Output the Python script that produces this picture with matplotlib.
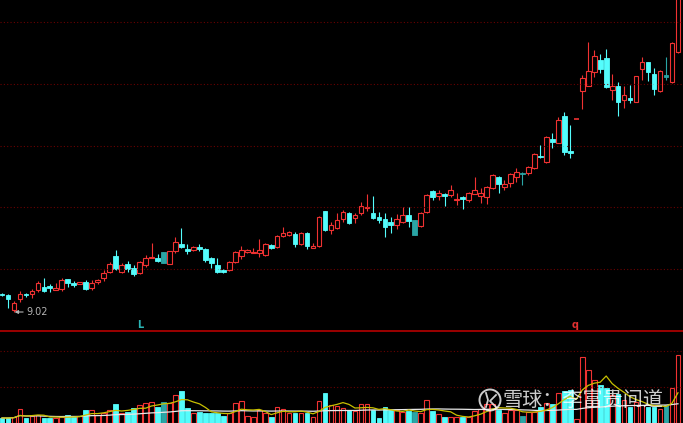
import numpy as np
import pandas as pd
import matplotlib
matplotlib.use("Agg")
import matplotlib.pyplot as plt
from matplotlib.patches import Rectangle, Circle
from matplotlib.lines import Line2D

plt.rcParams['font.family'] = ['Noto Sans CJK SC', 'DejaVu Sans']

# 日K线（开、高、低、收）
opens = [9.92, 9.87, 9.12, 9.67, 9.92, 9.92, 10.12, 10.27, 10.32, 10.12,
         10.17, 10.67, 10.47, 10.42, 10.52, 10.22, 10.52, 10.72, 11.02, 11.82,
         11.02, 11.42, 11.22, 10.97, 11.37, 11.72, 11.72, 12.02, 11.42, 12.07,
         12.42, 12.17, 12.12, 12.27, 12.17, 11.72, 11.37, 11.12, 11.12, 11.52,
         11.82, 12.02, 11.97, 11.97, 11.87, 12.37, 12.27, 12.82, 12.87, 12.92,
         12.42, 12.97, 12.22, 12.32, 14.07, 13.12, 13.22, 13.67, 13.97, 13.72,
         13.97, 14.22, 13.97, 13.77, 13.67, 13.52, 13.37, 13.52, 13.87, 13.62,
         13.32, 14.02, 15.07, 14.82, 14.92, 14.87, 14.62, 14.77, 14.62, 14.92,
         14.82, 14.77, 15.22, 15.77, 15.27, 15.47, 15.77, 15.97, 15.97, 16.22,
         16.82, 16.52, 17.67, 17.47, 18.82, 17.07, 18.67, 20.07, 20.32, 21.02,
         21.62, 21.72, 20.12, 20.32, 19.62, 19.72, 19.52, 21.17, 21.52, 20.92,
         20.07, 20.87, 20.52, 22.02]
highs = [9.97, 9.92, 9.57, 10.07, 9.97, 10.17, 10.57, 10.72, 10.42, 10.47,
         10.72, 10.67, 10.57, 10.52, 10.62, 10.62, 10.67, 11.12, 11.52, 12.12,
         11.47, 11.57, 11.37, 11.57, 11.87, 12.47, 11.92, 12.02, 12.07, 12.77,
         13.22, 12.42, 12.32, 12.42, 12.22, 11.77, 11.72, 11.17, 11.57, 12.07,
         12.32, 12.17, 12.22, 12.67, 12.47, 12.42, 12.87, 13.27, 13.07, 13.02,
         13.02, 13.02, 12.47, 13.82, 14.07, 13.52, 13.97, 14.12, 14.02, 13.97,
         14.52, 14.92, 14.82, 14.02, 13.97, 13.77, 13.92, 14.27, 14.27, 13.62,
         14.02, 14.92, 15.12, 15.12, 14.97, 15.37, 14.97, 14.82, 15.02, 15.77,
         15.22, 15.32, 15.92, 15.82, 15.62, 15.97, 16.22, 16.02, 16.32, 16.97,
         17.37, 17.82, 17.97, 18.77, 19.02, 18.37, 18.67, 20.87, 22.52, 22.12,
         21.92, 22.17, 20.92, 20.52, 20.32, 20.37, 20.82, 21.77, 21.52, 21.22,
         21.12, 21.77, 22.52, 24.72]
lows = [9.82, 9.22, 9.02, 9.52, 9.77, 9.72, 10.02, 10.02, 10.02, 10.12,
        10.07, 10.27, 10.27, 10.42, 10.12, 10.12, 10.42, 10.57, 10.97, 11.12,
        10.97, 11.02, 10.82, 10.92, 11.27, 11.72, 11.52, 11.47, 11.42, 11.97,
        12.22, 11.92, 12.07, 12.07, 11.52, 11.22, 10.97, 10.97, 11.07, 11.47,
        11.67, 11.97, 11.97, 11.77, 11.82, 12.17, 12.22, 12.77, 12.82, 12.27,
        12.37, 12.17, 12.22, 12.27, 13.07, 12.92, 13.17, 13.52, 13.42, 13.47,
        13.87, 14.07, 13.67, 13.47, 12.77, 12.97, 13.17, 13.47, 13.27, 12.87,
        13.27, 13.97, 14.62, 14.62, 14.32, 14.77, 14.37, 14.17, 14.52, 14.92,
        14.47, 14.42, 15.17, 14.97, 15.12, 15.27, 15.52, 15.37, 15.87, 16.17,
        16.72, 16.47, 17.22, 17.47, 16.87, 16.72, 18.67, 19.17, 20.32, 20.77,
        20.97, 20.22, 19.62, 18.82, 19.22, 19.47, 19.52, 20.62, 20.57, 19.87,
        20.02, 20.62, 20.47, 21.97]
closes = [9.87, 9.67, 9.47, 9.92, 9.87, 10.07, 10.47, 10.07, 10.22, 10.22,
          10.62, 10.47, 10.37, 10.52, 10.17, 10.47, 10.62, 10.97, 11.42, 11.17,
          11.37, 11.17, 10.92, 11.52, 11.72, 11.77, 11.57, 11.47, 12.07, 12.52,
          12.27, 12.07, 12.27, 12.17, 11.62, 11.47, 11.02, 11.02, 11.52, 12.02,
          12.12, 12.12, 12.02, 12.12, 12.42, 12.22, 12.82, 12.97, 13.02, 12.42,
          12.97, 12.32, 12.32, 13.77, 13.12, 13.37, 13.62, 14.02, 13.47, 13.87,
          14.32, 14.27, 13.72, 13.62, 13.27, 13.37, 13.67, 13.87, 13.57, 12.87,
          13.97, 14.87, 14.77, 14.97, 14.82, 15.12, 14.67, 14.67, 14.97, 15.12,
          14.97, 15.27, 15.87, 15.42, 15.42, 15.92, 16.02, 15.92, 16.27, 16.92,
          16.77, 17.77, 17.52, 18.62, 17.02, 16.97, 18.67, 20.72, 21.07, 21.82,
          21.17, 20.27, 20.32, 19.52, 19.87, 19.62, 20.82, 21.52, 21.02, 20.17,
          21.07, 20.77, 22.47, 24.72]
# 成交量（万手）
volumes = [0.5, 0.5, 0.6, 1.4, 0.5, 0.7, 0.8, 0.5, 0.5, 0.5,
           0.6, 0.8, 0.6, 0.7, 1.3, 1.3, 0.8, 1.0, 1.3, 1.9,
           1.0, 1.1, 1.5, 1.8, 2.0, 2.1, 1.6, 2.1, 2.0, 2.8,
           3.2, 1.5, 1.0, 1.1, 1.0, 1.0, 1.0, 0.7, 1.0, 2.0,
           2.2, 0.7, 0.6, 1.3, 1.0, 0.6, 1.6, 1.4, 1.0, 1.0,
           1.0, 1.0, 0.6, 2.2, 3.0, 1.8, 1.7, 1.5, 1.3, 1.2,
           1.9, 1.9, 1.3, 0.5, 1.6, 1.3, 1.3, 1.1, 1.2, 1.1,
           1.0, 2.3, 1.2, 0.9, 0.6, 0.6, 0.6, 0.6, 0.6, 1.2,
           1.4, 1.9, 1.9, 1.3, 1.0, 1.3, 1.3, 0.7, 1.1, 1.1,
           1.6, 2.0, 1.9, 3.0, 3.2, 3.3, 0.4, 6.6, 5.3, 4.3,
           3.8, 3.5, 2.8, 2.9, 2.3, 1.6, 2.1, 1.8, 1.6, 1.6,
           1.4, 1.8, 3.5, 6.8]

price_grid = [23.5, 20.42, 17.33, 14.25, 11.17]
vol_grid = [3.6, 7.2]

RED = '#f03232'
CYAN = '#54fcfc'
TEAL = '#2aa5a5'
teal_days = [27, 69, 87, 111]  # 这几根阴线颜色偏暗

n = len(closes)
x = np.arange(n)
up = []
for i in range(n):
    if closes[i] != opens[i]:
        up.append(closes[i] > opens[i])
    else:
        up.append(i == 0 or closes[i] >= closes[i - 1])

fig = plt.figure(figsize=(6.83, 4.23), dpi=100, facecolor='black')
ax = fig.add_axes([0, 92 / 423, 1, 331 / 423])
axv = fig.add_axes([0, 0, 1, 91 / 423])
for a in (ax, axv):
    a.set_facecolor('black')
    a.set_axis_off()
    a.set_xlim(-0.33, 113.84)
ax.set_ylim(8.07, 24.62)
axv.set_ylim(0, 9.1)

for g in price_grid:
    ax.axhline(g, color='#6a0000', lw=0.8, ls=(0, (1, 2)))
for g in vol_grid:
    axv.axhline(g, color='#6a0000', lw=0.8, ls=(0, (1, 2)))

# K线
w = 0.78
for i in range(n):
    o, h, l, c = opens[i], highs[i], lows[i], closes[i]
    top, bot = max(o, c), min(o, c)
    if up[i]:
        ax.vlines(i, top, h, color=RED, lw=0.8)
        ax.vlines(i, l, bot, color=RED, lw=0.8)
        if top - bot < 0.03:
            ax.hlines(top, i - w / 2, i + w / 2, color=RED, lw=1.2)
        else:
            ax.add_patch(Rectangle((i - w / 2, bot), w, top - bot, fill=False,
                                   edgecolor=RED, lw=0.8))
    else:
        col = TEAL if i in teal_days else CYAN
        ax.vlines(i, l, h, color=col, lw=0.8)
        ax.add_patch(Rectangle((i - w / 2, bot), w, top - bot, facecolor=col,
                               edgecolor=col, lw=0.6))

# 最低价标注
imin = int(np.argmin(lows))
ax.annotate('9.02', xy=(imin + 0.1, lows[imin]), xytext=(imin + 2.0, lows[imin]),
            color='#b4b4b4', fontsize=7, va='center', family='DejaVu Sans',
            arrowprops=dict(arrowstyle='-|>', color='#b4b4b4', lw=0.8,
                            mutation_scale=5, shrinkA=0, shrinkB=0))
ax.text(23.1, 8.37, 'L', color='#2ab5b5', fontsize=7, fontweight='bold',
        ha='center', va='center', family='DejaVu Sans')
ax.text(95.8, 8.37, 'q', color='#e03030', fontsize=7, fontweight='bold',
        ha='center', va='center', family='DejaVu Sans')

# 成交量
for i in range(n):
    if up[i]:
        axv.add_patch(Rectangle((i - w / 2, 0), w, volumes[i], fill=False,
                                edgecolor=RED, lw=0.8))
    else:
        col = TEAL if i in teal_days else CYAN
        axv.add_patch(Rectangle((i - w / 2, 0), w, volumes[i], facecolor=col,
                                edgecolor=col, lw=0.6))
vol = pd.Series(volumes)
axv.plot(x, vol.rolling(60, min_periods=1).mean(), color='#e8e8e8', lw=0.9)
axv.plot(x, vol.rolling(5, min_periods=1).mean(), color='#c8c000', lw=0.9)

# 分隔线
fig.add_artist(Line2D([0, 1], [92 / 423, 92 / 423], color='#a80000', lw=1.3))

# 水印
fig.text(503 / 683, 1 - 400 / 423, '雪球：李富贵问道', color='white', alpha=0.8,
         fontsize=14.5, va='center', ha='left')
fig.add_artist(Circle((4.90, 0.23), 0.105, transform=fig.dpi_scale_trans,
                      fill=False, edgecolor='white', alpha=0.8, lw=1.4))
fig.add_artist(Line2D([4.86, 4.88, 4.86], [0.30, 0.23, 0.16], transform=fig.dpi_scale_trans,
                      color='white', alpha=0.8, lw=1.3))
fig.add_artist(Line2D([4.96, 4.90, 4.96], [0.28, 0.22, 0.16], transform=fig.dpi_scale_trans,
                      color='white', alpha=0.8, lw=1.3))

fig.savefig('out.png', dpi=100, facecolor='black')
